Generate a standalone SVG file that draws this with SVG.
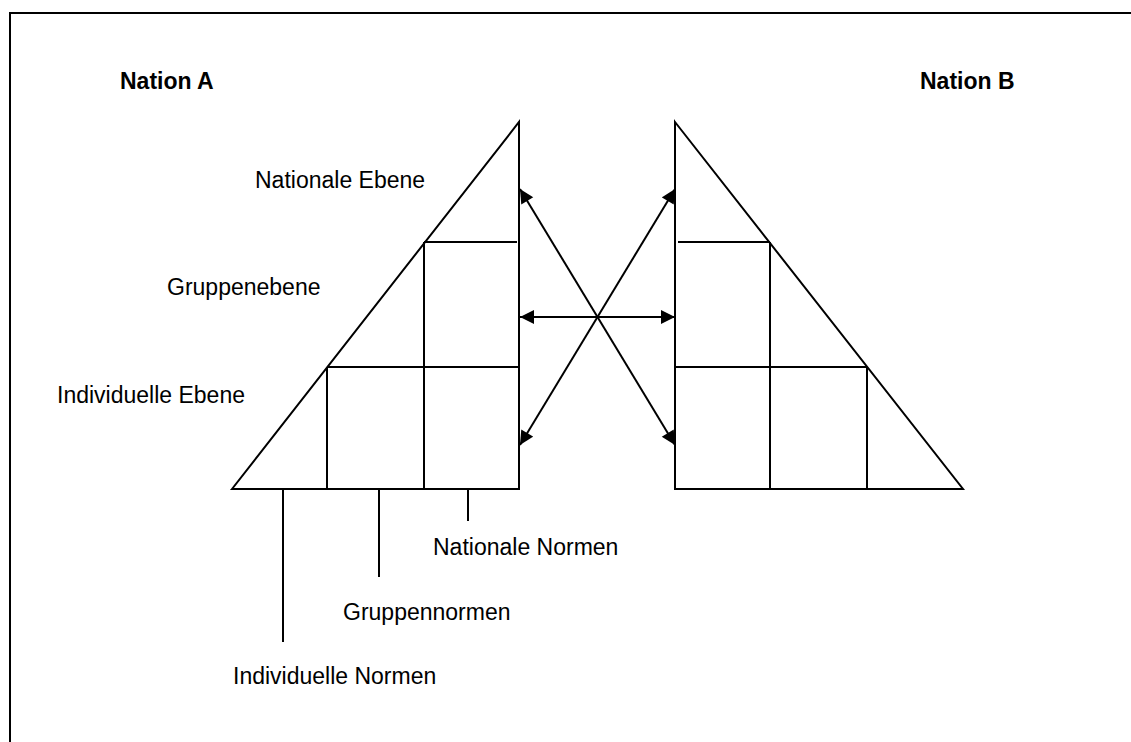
<svg xmlns="http://www.w3.org/2000/svg" width="1131" height="742" viewBox="0 0 1131 742">
<style>
.ln{stroke:#000;stroke-width:2;fill:none;stroke-linecap:butt}
.t{font-family:"Liberation Sans",Arial,sans-serif;font-size:23px;fill:#000}
.b{font-weight:bold}
.ar{stroke:#000;stroke-width:2;fill:none;marker-start:url(#ah);marker-end:url(#ah)}
</style>
<defs>
<marker id="ah" markerUnits="userSpaceOnUse" markerWidth="16" markerHeight="16" refX="15" refY="7" orient="auto-start-reverse">
<path d="M1,0 L15,7 L1,14 z" fill="#000"/>
</marker>
</defs>
<rect width="1131" height="742" fill="#fff"/>
<path class="ln" d="M10,742 V13 H1131"/>
<text class="t b" x="120" y="89">Nation A</text>
<text class="t b" x="920" y="89">Nation B</text>
<g id="nationA">
<path class="ln" d="M232,489 L519,122 V489 Z"/>
<path class="ln" d="M424,242 H517 M327,367 H519 M327,367 V489 M424,242 V489"/>
<path class="ln" d="M283,489 V642 M379,489 V577 M468,489 V521"/>
</g>
<g id="nationB">
<path class="ln" d="M675,122 L963,489 H675 Z"/>
<path class="ln" d="M678,242 H770 M675,367 H867 M770,242 V489 M867,367 V489"/>
</g>
<g id="labels">
<text class="t" x="255" y="188">Nationale Ebene</text>
<text class="t" x="167" y="295">Gruppenebene</text>
<text class="t" x="57" y="403">Individuelle Ebene</text>
<text class="t" x="433" y="555">Nationale Normen</text>
<text class="t" x="343" y="620">Gruppennormen</text>
<text class="t" x="233" y="684">Individuelle Normen</text>
</g>
<g id="connectors">
<line class="ar" x1="520" y1="317" x2="675" y2="317"/>
<line class="ar" x1="520" y1="189" x2="675" y2="445"/>
<line class="ar" x1="675" y1="189" x2="520" y2="445"/>
</g>
</svg>
